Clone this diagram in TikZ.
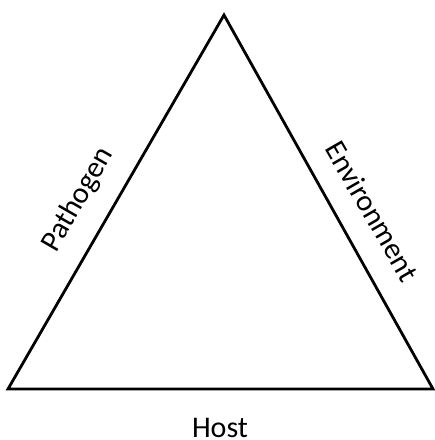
\documentclass[tikz,border=0pt]{standalone}
\usepackage{fontspec}
\setmainfont{Carlito}
\usetikzlibrary{calc}
\begin{document}
\begin{tikzpicture}[x=1pt,y=-1pt,
  edge/.style={line width=2.8pt,line join=miter},
  lbl/.style={font=\fontsize{30}{36}\selectfont,inner sep=0pt}]
\useasboundingbox (0,0) rectangle (435,440);
% triangle corners
\coordinate (T) at (224,15);
\coordinate (L) at (8,389);
\coordinate (R) at (433,389);
\draw[edge] (T) -- (L) -- (R) -- cycle;
% side labels
\node[lbl,rotate=60]  (path) at (78,200)  {Pathogen};
\node[lbl,rotate=-60] (env)  at (372,211) {Environment};
\node[lbl,anchor=base] (host) at (220,437) {Host};
\end{tikzpicture}
\end{document}
